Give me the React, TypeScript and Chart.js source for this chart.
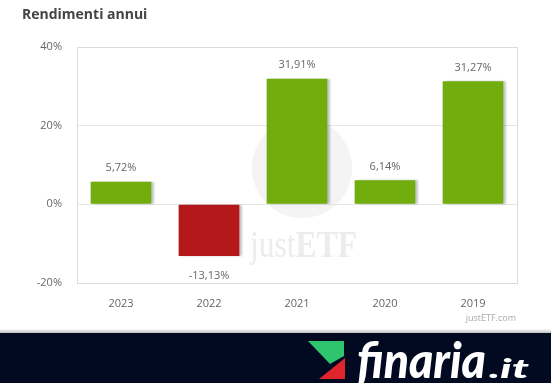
import React, { useEffect, useRef } from "react";
import { Chart, registerables } from "chart.js";

Chart.register(...registerables);

const categories = ["2023", "2022", "2021", "2020", "2019"];
const returnsPct = [5.72, -13.13, 31.91, 6.14, 31.27];
const yTicks = [-20, 0, 20, 40];
const title = "Rendimenti annui";
const credit = "justETF.com";

const GREEN = "#72ad0e";
const RED = "#b5181a";
const FONT = "'Open Sans', 'Noto Sans', sans-serif";

const fmt = (v: number) => v.toFixed(2).replace(".", ",") + "%";

const decorPlugin = {
  id: "decor",
  beforeDraw(chart: any) {
    const { ctx, width, height } = chart;
    ctx.save();
    ctx.fillStyle = "#ffffff";
    ctx.fillRect(0, 0, width, height);
    // title
    ctx.fillStyle = "#444444";
    ctx.font = `bold 14px ${FONT}`;
    ctx.textBaseline = "middle";
    ctx.textAlign = "left";
    ctx.fillText(title, 22, 15);
    // watermark
    ctx.fillStyle = "#f4f4f4";
    ctx.beginPath();
    ctx.arc(302, 168, 50, 0, Math.PI * 2);
    ctx.fill();
    ctx.fillStyle = "#ececec";
    ctx.textBaseline = "alphabetic";
    ctx.font = `38px 'Liberation Serif', serif`;
    const w = ctx.measureText("just").width;
    ctx.font = `bold 38px 'Liberation Serif', serif`;
    const w2 = ctx.measureText("ETF").width;
    ctx.save();
    ctx.translate(250, 257);
    ctx.scale(107 / (w + w2), 1);
    ctx.font = `38px 'Liberation Serif', serif`;
    ctx.fillText("just", 0, 0);
    ctx.font = `bold 38px 'Liberation Serif', serif`;
    ctx.fillText("ETF", w, 0);
    ctx.restore();
    // credit
    ctx.fillStyle = "#aaaaaa";
    ctx.font = `9px ${FONT}`;
    ctx.textAlign = "right";
    ctx.fillText(credit, 516, 321);
    // bottom band
    const g = ctx.createLinearGradient(0, 329, 0, 335);
    g.addColorStop(0, "rgba(0,0,0,0)");
    g.addColorStop(1, "rgba(120,120,130,0.5)");
    ctx.fillStyle = g;
    ctx.fillRect(0, 329, width, 5);
    ctx.fillStyle = "#020a22";
    ctx.fillRect(0, 333, width, height - 333);
    // logo icon
    ctx.fillStyle = "#2fc46e";
    ctx.beginPath();
    ctx.moveTo(308, 341);
    ctx.lineTo(344, 341);
    ctx.lineTo(344, 356);
    ctx.lineTo(330, 364);
    ctx.closePath();
    ctx.fill();
    ctx.fillStyle = "#e0242b";
    ctx.beginPath();
    ctx.moveTo(345, 358);
    ctx.lineTo(345, 379);
    ctx.lineTo(319, 379);
    ctx.closePath();
    ctx.fill();
    // logo text
    ctx.fillStyle = "#ffffff";
    ctx.textAlign = "left";
    ctx.font = `italic 900 50px Lato, ${FONT}`;
    const fw = ctx.measureText("finaria").width;
    ctx.save();
    ctx.translate(357, 378);
    ctx.scale(129 / fw, 1);
    ctx.fillText("finaria", 0, 0);
    ctx.restore();
    ctx.font = `italic 900 27px Lato, ${FONT}`;
    const iw = ctx.measureText(".it").width;
    ctx.save();
    ctx.translate(489, 378);
    ctx.scale(40 / iw, 1);
    ctx.fillText(".it", 0, 0);
    ctx.restore();
    ctx.restore();
  },
  beforeDatasetsDraw(chart: any) {
    const { ctx, chartArea } = chart;
    ctx.save();
    ctx.strokeStyle = "#dcdcdc";
    ctx.lineWidth = 1;
    ctx.strokeRect(
      Math.round(chartArea.left) + 0.5,
      Math.round(chartArea.top) + 0.5,
      Math.round(chartArea.right - chartArea.left),
      Math.round(chartArea.bottom - chartArea.top)
    );
    ctx.restore();
  },
  beforeDatasetDraw(chart: any) {
    const ctx = chart.ctx;
    ctx.save();
    ctx.shadowColor = "rgba(0,0,0,0.22)";
    ctx.shadowOffsetX = 3;
    ctx.shadowOffsetY = 0;
    ctx.shadowBlur = 2;
  },
  afterDatasetDraw(chart: any) {
    chart.ctx.restore();
  },
  afterDatasetsDraw(chart: any) {
    const { ctx } = chart;
    const meta = chart.getDatasetMeta(0);
    ctx.save();
    ctx.fillStyle = "#666666";
    ctx.font = `11px ${FONT}`;
    ctx.textAlign = "center";
    meta.data.forEach((bar: any, i: number) => {
      const v = returnsPct[i];
      if (v >= 0) {
        ctx.textBaseline = "bottom";
        ctx.fillText(fmt(v), bar.x, bar.y - 8);
      } else {
        ctx.textBaseline = "top";
        ctx.fillText(fmt(v), bar.x, bar.y + 14);
      }
    });
    ctx.restore();
  },
};

export default function App() {
  const ref = useRef<HTMLCanvasElement>(null);
  useEffect(() => {
    if (!ref.current) return;
    const chart = new Chart(ref.current, {
      type: "bar",
      data: {
        labels: categories,
        datasets: [
          {
            data: returnsPct,
            backgroundColor: returnsPct.map((v) => (v >= 0 ? GREEN : RED)),
            barPercentage: 0.69,
            categoryPercentage: 1,
          },
        ],
      },
      options: {
        responsive: false,
        animation: false,
        devicePixelRatio: 1,
        layout: { padding: { left: 0, top: 47, right: 34, bottom: 70 } },
        plugins: {
          legend: { display: false },
          tooltip: { enabled: false },
          title: { display: false },
        },
        scales: {
          x: {
            grid: { display: false },
            border: { display: false },
            ticks: { color: "#666666", font: { family: FONT, size: 11 }, padding: 6 },
            afterFit: (s: any) => {
              s.height = 30;
            },
          },
          y: {
            min: -20,
            max: 40,
            afterBuildTicks: (s: any) => {
              s.ticks = yTicks.map((v) => ({ value: v }));
            },
            grid: { color: "#e6e6e6", drawTicks: false },
            border: { display: false },
            ticks: {
              color: "#666666",
              font: { family: FONT, size: 11 },
              padding: 15,
              callback: (v: any) => v + "%",
            },
            afterFit: (s: any) => {
              s.width = 77;
            },
          },
        },
      },
      plugins: [decorPlugin],
    });
    return () => chart.destroy();
  }, []);
  return (
    <div style={{ position: "absolute", left: 0, top: 0, width: 551, height: 383 }}>
      <canvas ref={ref} width={551} height={383} style={{ display: "block" }} />
    </div>
  );
}
